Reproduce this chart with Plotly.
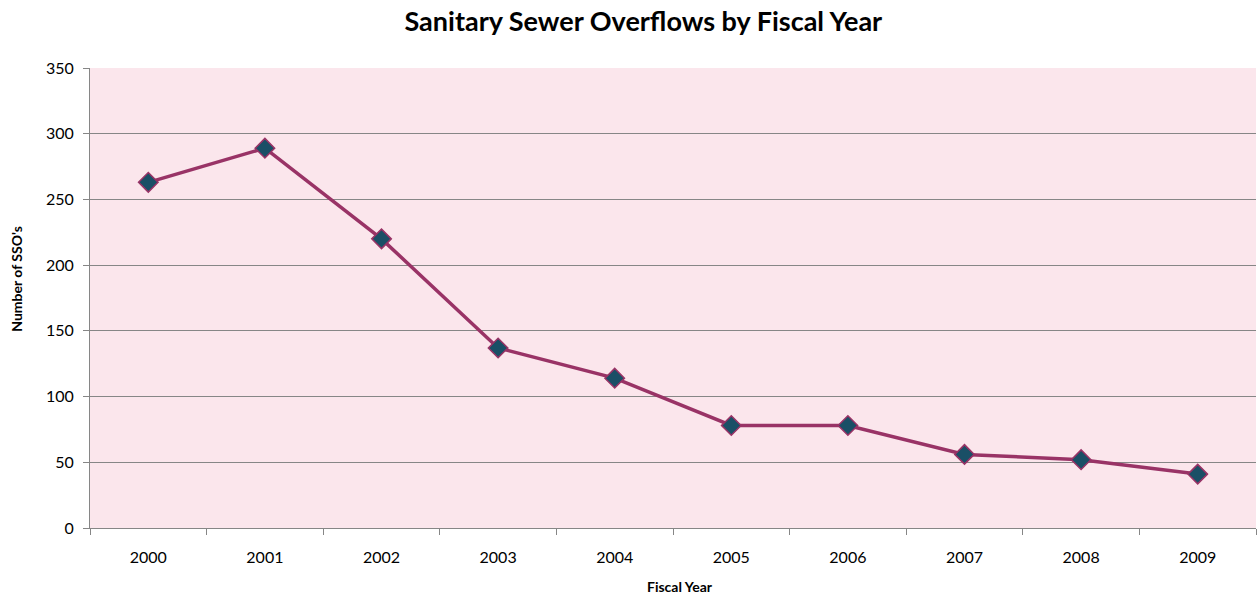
import plotly.graph_objects as go

years = ["2000", "2001", "2002", "2003", "2004", "2005", "2006", "2007", "2008", "2009"]
overflows = [263, 289, 220, 137, 114, 78, 78, 56, 52, 41]
y_ticks = [0, 50, 100, 150, 200, 250, 300, 350]

FONT = "Lato"
AXIS_GRAY = "#868686"

fig = go.Figure()
fig.add_trace(go.Scatter(
    x=years,
    y=overflows,
    mode="lines+markers",
    line=dict(color="#993366", width=3.5),
    marker=dict(symbol="diamond", size=15, color="#1A4F66",
                line=dict(color="#993366", width=1.5)),
    showlegend=False,
))

fig.update_layout(
    width=1259,
    height=602,
    margin=dict(l=90, r=3, t=68, b=74),
    paper_bgcolor="white",
    plot_bgcolor="#FBE6EC",
    font=dict(family=FONT, size=16, color="black"),
    title=dict(
        text="<b>Sanitary Sewer Overflows by Fiscal Year</b>",
        x=0.511, xref="container", xanchor="center",
        y=0.964, yanchor="middle",
        font=dict(family=FONT, size=27, color="black"),
    ),
    xaxis=dict(
        type="category",
        range=[-0.5, 9.5],
        showgrid=False,
        showline=True,
        linecolor=AXIS_GRAY,
        linewidth=1,
        ticks="outside",
        tickson="boundaries",
        ticklen=6,
        tickcolor=AXIS_GRAY,
        ticklabelstandoff=15,
        tickfont=dict(family=FONT, size=16),
    ),
    yaxis=dict(
        range=[0, 350],
        tickvals=y_ticks,
        showgrid=True,
        gridcolor=AXIS_GRAY,
        gridwidth=1,
        zeroline=False,
        showline=True,
        linecolor=AXIS_GRAY,
        linewidth=1,
        ticks="outside",
        ticklen=6,
        tickcolor=AXIS_GRAY,
        ticklabelstandoff=6,
        tickfont=dict(family=FONT, size=16),
    ),
    annotations=[
        dict(text="<b>Fiscal Year</b>", xref="paper", yref="paper",
             x=0.506, y=-0.128, xanchor="center", yanchor="middle",
             showarrow=False, font=dict(family=FONT, size=14)),
        dict(text="<b>Number of SSO's</b>", xref="paper", yref="paper",
             x=-0.063, y=0.541, xanchor="center", yanchor="middle",
             textangle=-90, showarrow=False, font=dict(family=FONT, size=14)),
    ],
)

fig.write_html("out.html")
